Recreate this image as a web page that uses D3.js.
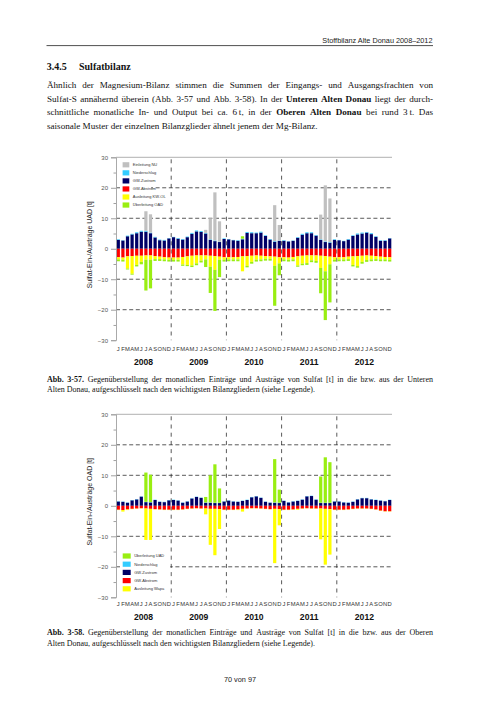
<!DOCTYPE html>
<html><head><meta charset="utf-8">
<script src="https://cdn.jsdelivr.net/npm/d3@7/dist/d3.min.js"></script>
<style>html,body{margin:0;padding:0;background:#fff;}svg{display:block;}</style>
</head><body>
<script>
// ---------- DATA ----------
const monthLabels = ["J","F","M","A","M","J","J","A","S","O","N","D"];
const years = ["2008","2009","2010","2011","2012"];
const yTicks = [-30,-20,-10,0,10,20,30];
const yMinorTicks = [-25,-15,-5,5,15,25];
const gridDashed = [-20,-10,10,20];

// Chart 1: Untere Alte Donau (UAD) — inputs positive, outputs negative [t]
const uadGwZustrom = [
 2.9,2.7,4.1,4.7,5.1,5.6,5.6,5.1,3.7,2.8,2.7,3.4,
 3.8,3.3,3.0,3.8,4.9,5.7,5.5,5.0,2.9,2.5,2.2,3.2,
 3.1,2.8,2.6,3.1,5.2,5.1,5.1,5.3,4.2,3.0,2.3,2.6,
 2.6,2.4,2.6,3.6,4.6,5.1,5.1,4.3,2.9,2.2,2.0,2.9,
 2.8,2.5,3.0,4.2,4.7,5.0,5.3,4.8,3.9,2.6,2.6,3.4];
const uadNiederschlag = [
 0.2,0.1,0.2,0.2,0.3,0.3,0.3,0.2,0.2,0.2,0.2,0.1,
 0.1,0.2,0.2,0.2,0.3,0.3,0.3,0.2,0.2,0.2,0.1,0.2,
 0.1,0.1,0.2,0.2,0.3,0.3,0.2,0.3,0.2,0.2,0.2,0.1,
 0.2,0.1,0.1,0.2,0.3,0.3,0.3,0.2,0.2,0.2,0.2,0.2,
 0.1,0.1,0.2,0.2,0.3,0.3,0.2,0.3,0.2,0.2,0.2,0.1];
const uadEinleitungNU = [
 0,0,0,0,0,0,6.4,6.0,0,0,0,0,
 0,0,0,0,0,0,0,1.0,6.9,15.8,6.7,0,
 0,0,0,0,0,0,0,0,0,0,11.8,5.1,
 0,0,0,0,0,0,0,0,8.1,18.4,14.3,0,
 0,0,0,0,0,0,0,0,0,0,0,0];
const uadGwAbstrom = [
 -2.8,-2.9,-2.5,-2.4,-2.3,-2.3,-2.2,-2.2,-2.4,-2.6,-2.8,-2.9,
 -2.9,-2.9,-2.7,-2.5,-2.3,-2.2,-2.2,-2.2,-2.3,-2.4,-2.6,-2.8,
 -2.8,-2.8,-2.7,-2.5,-2.4,-2.3,-2.2,-2.3,-2.4,-2.5,-2.6,-2.8,
 -2.8,-2.9,-2.7,-2.5,-2.3,-2.2,-2.2,-2.2,-2.3,-2.4,-2.6,-2.8,
 -2.8,-2.8,-2.6,-2.5,-2.4,-2.3,-2.2,-2.3,-2.4,-2.6,-2.7,-2.8];
const uadAusleitungKWOL = [
 -0.7,-0.7,-4.0,-5.8,-3.0,-2.0,-1.4,-1.4,-1.0,-0.8,-0.7,-0.7,
 -0.7,-0.7,-2.5,-2.8,-3.2,-2.6,-1.7,-1.3,-3.6,-4.5,-1.0,-0.8,
 -0.7,-0.7,-0.8,-4.9,-3.2,-2.0,-1.4,-1.2,-0.9,-0.8,-3.0,-2.0,
 -0.7,-0.7,-0.8,-3.0,-2.6,-2.5,-1.6,-1.8,-4.0,-5.0,-2.5,-0.8,
 -0.7,-0.7,-0.8,-2.8,-3.3,-2.0,-1.5,-1.2,-1.0,-0.9,-0.8,-0.8];
const uadUeberleitungOAD = [
 -0.6,-0.6,-0.3,-0.3,-0.5,-0.8,-10.1,-9.4,-0.6,-0.6,-0.6,-0.6,
 -0.6,-0.6,-0.4,-0.4,-0.5,-0.6,-0.6,-2.5,-8.6,-13.5,-5.7,-0.6,
 -0.6,-0.6,-0.6,0.8,-0.5,-0.6,-0.6,-0.6,-0.6,-0.6,-13.1,-3.9,
 -0.6,-0.6,-0.6,-0.4,-0.5,-0.6,-0.6,-0.6,-8.3,-16.0,-12.5,-0.6,
 -0.6,-0.6,-0.6,-0.5,-0.5,-0.6,-0.6,-0.6,-0.6,-0.6,-0.6,-0.6];

// Chart 2: Obere Alte Donau (OAD)
const oadGwZustrom = [
 1.4,1.3,1.0,1.8,2.1,3.0,1.2,1.1,1.9,1.3,1.2,1.8,
 1.9,1.7,1.0,1.4,2.4,2.9,2.6,1.0,1.0,0.9,0.9,1.4,
 1.7,1.4,1.3,1.6,1.9,2.8,3.1,2.6,1.3,1.0,1.0,0.9,
 1.6,1.1,1.4,1.6,2.0,3.1,3.2,2.0,0.9,0.9,0.9,1.4,
 1.4,1.1,1.0,1.3,2.1,2.5,2.5,2.1,1.9,1.7,1.5,1.9];
const oadNiederschlag = [
 0.1,0.1,0.1,0.1,0.1,0.1,0.1,0.1,0.1,0.1,0.1,0.1,
 0.1,0.1,0.1,0.1,0.1,0.1,0.1,0.1,0.1,0.1,0.1,0.1,
 0.1,0.1,0.1,0.1,0.1,0.1,0.1,0.1,0.1,0.1,0.1,0.1,
 0.1,0.1,0.1,0.1,0.1,0.1,0.1,0.1,0.1,0.1,0.1,0.1,
 0.1,0.1,0.1,0.1,0.1,0.1,0.1,0.1,0.1,0.1,0.1,0.1];
const oadUeberleitungUAD = [
 0,0,0,0,0,0,9.6,9.0,0,0,0,0,
 0,0,0,0,0,0,0,1.8,8.9,12.6,4.7,0,
 0,0,0,0,0,0,0,0,0,0,14.2,4.3,
 0,0,0,0,0,0,0,0,8.6,14.9,13.3,0,
 0,0,0,0,0,0,0,0,0,0,0,0];
const oadGwAbstrom = [
 -1.3,-1.4,-1.2,-1.0,-0.9,-0.8,-0.9,-1.0,-1.1,-1.2,-1.3,-1.3,
 -1.3,-1.3,-1.2,-1.0,-0.9,-0.8,-0.9,-0.9,-1.0,-1.0,-1.1,-1.3,
 -1.3,-1.3,-1.2,-1.0,-0.9,-0.8,-0.8,-0.9,-1.0,-1.1,-1.0,-1.1,
 -1.3,-1.3,-1.2,-1.0,-0.9,-0.8,-0.9,-0.9,-0.9,-1.0,-1.1,-1.3,
 -1.3,-1.3,-1.2,-1.0,-0.9,-0.9,-0.9,-1.0,-1.2,-1.6,-1.8,-1.8];
const oadAusleitung = [
 -0.1,-0.5,-0.2,-0.1,-0.1,-0.1,-10.3,-10.2,-0.1,-0.1,-0.1,-0.1,
 -0.1,-0.1,-0.1,-0.1,-0.1,-0.1,-0.1,-1.9,-11.8,-15.2,-6.5,-0.1,
 -0.1,-0.1,-0.2,-0.9,-0.1,-0.1,-0.1,-0.1,-0.1,-0.1,-17.8,-5.3,
 -0.1,-0.1,-0.1,-0.3,-0.1,-0.1,-0.1,-0.1,-10.1,-18.3,-14.9,-0.1,
 -0.1,-0.1,-0.1,-0.1,-0.1,-0.1,-0.1,-0.1,-0.1,-0.1,-0.1,-0.1];

// ---------- PAGE ----------
const W = 504, H = 713;
const SERIF = "'Liberation Serif','Times New Roman',serif";
const SANS = "'Liberation Sans',Arial,sans-serif";
const svg = d3.select("body").append("svg").attr("width", W).attr("height", H);
svg.append("rect").attr("width", W).attr("height", H).attr("fill", "#fff");

// header
svg.append("text").attr("x", 432.5).attr("y", 42.5).attr("text-anchor", "end")
  .attr("font-family", SANS).attr("font-size", 7.3).attr("fill", "#222")
  .text("Stoffbilanz Alte Donau 2008–2012");
svg.append("line").attr("x1", 46.5).attr("x2", 433).attr("y1", 45.6).attr("y2", 45.6)
  .attr("stroke", "#222").attr("stroke-width", 0.8);

// heading
svg.append("text").attr("x", 46.7).attr("y", 70).attr("font-family", SERIF)
  .attr("font-size", 10).attr("font-weight", "bold").attr("fill", "#111").text("3.4.5");
svg.append("text").attr("x", 79).attr("y", 70).attr("font-family", SERIF)
  .attr("font-size", 10).attr("font-weight", "bold").attr("fill", "#111").text("Sulfatbilanz");

function textLine(x0, x1, y, segments, size, justify) {
  const g = svg.append("g");
  const words = [];
  segments.forEach(s => s.t.split(" ").filter(w => w.length).forEach(w => words.push({w, b: s.b})));
  const nodes = words.map(o => g.append("text").attr("y", y).attr("font-family", SERIF)
    .attr("font-size", size).attr("fill", "#111").attr("font-weight", o.b ? "bold" : "normal").text(o.w));
  const widths = nodes.map(n => n.node().getComputedTextLength());
  const total = d3.sum(widths);
  const gap = justify && words.length > 1 ? (x1 - x0 - total) / (words.length - 1) : size * 0.25;
  let x = x0;
  nodes.forEach((n, i) => { n.attr("x", x); x += widths[i] + gap; });
}
const L = 47, R = 433;
textLine(L, R, 88.3, [{t: "Ähnlich der Magnesium-Bilanz stimmen die Summen der Eingangs- und Ausgangsfrachten von"}], 9.1, true);
textLine(L, R, 101.8, [{t: "Sulfat-S annähernd überein (Abb. 3-57 und Abb. 3-58). In der"}, {t: "Unteren Alten Donau", b: true}, {t: "liegt der durch-"}], 9.1, true);
textLine(L, R, 115.3, [{t: "schnittliche monatliche In- und Output bei ca. 6\u2009t, in der"}, {t: "Oberen Alten Donau", b: true}, {t: "bei rund 3\u2009t. Das"}], 9.1, true);
textLine(L, R, 128.8, [{t: "saisonale Muster der einzelnen Bilanzglieder ähnelt jenem der Mg-Bilanz."}], 9.1, false);

// captions
textLine(L, R, 381.5, [{t: "Abb. 3-57.", b: true}, {t: "Gegenüberstellung der monatlichen Einträge und Austräge von Sulfat [t] in die bzw. aus der Unteren"}], 8, true);
textLine(L, R, 392.3, [{t: "Alten Donau, aufgeschlüsselt nach den wichtigsten Bilanzgliedern (siehe Legende)."}], 8, false);
textLine(L, R, 635, [{t: "Abb. 3-58.", b: true}, {t: "Gegenüberstellung der monatlichen Einträge und Austräge von Sulfat [t] in die bzw. aus der Oberen"}], 8, true);
textLine(L, R, 645.6, [{t: "Alten Donau, aufgeschlüsselt nach den wichtigsten Bilanzgliedern (siehe Legende)."}], 8, false);

// page number
svg.append("text").attr("x", 240).attr("y", 681.5).attr("text-anchor", "middle")
  .attr("font-family", SANS).attr("font-size", 7.3).attr("fill", "#222").text("70 von 97");

// ---------- CHARTS ----------
const COLORS = {gray: "#c0c0c0", cyan: "#33ccff", navy: "#000066", red: "#ff0000", yellow: "#ffff00", green: "#99ee11"};
const monthKeys = d3.range(60);

function drawChart(cfg) {
  const g = svg.append("g");
  const x = d3.scaleBand().domain(monthKeys).range([cfg.left, cfg.right]).paddingInner(0.3).paddingOuter(0.15);
  const y = d3.scaleLinear().domain([-30, 30]).range([cfg.bottom, cfg.top]);
  const step = x.step();
  const boundary = i => x(i) - (step - x.bandwidth()) / 2;

  // top line at 30
  g.append("line").attr("x1", cfg.left).attr("x2", cfg.right).attr("y1", y(30)).attr("y2", y(30))
    .attr("stroke", "#a8a8a8").attr("stroke-width", 0.9);
  // dashed horizontal grid
  g.selectAll(".hg").data(gridDashed).join("line")
    .attr("x1", cfg.left).attr("x2", cfg.right).attr("y1", d => y(d)).attr("y2", d => y(d))
    .attr("stroke", "#222").attr("stroke-width", 0.75).attr("stroke-dasharray", "4,2.6");
  // dashed year dividers
  g.selectAll(".vg").data([12, 24, 36, 48]).join("line")
    .attr("x1", d => boundary(d)).attr("x2", d => boundary(d)).attr("y1", y(30) + 2).attr("y2", y(-30))
    .attr("stroke", "#222").attr("stroke-width", 0.75).attr("stroke-dasharray", "4,4.2");

  // stacked bars
  const table = monthKeys.map(i => {
    const o = {i};
    cfg.series.forEach(s => o[s.key] = s.values[i]);
    return o;
  });
  const stack = d3.stack().keys(cfg.series.map(s => s.key)).offset(d3.stackOffsetDiverging)(table);
  stack.forEach((layer, li) => {
    g.append("g").attr("fill", cfg.series[li].color).selectAll("rect").data(layer).join("rect")
      .attr("x", d => x(d.data.i)).attr("width", x.bandwidth())
      .attr("y", d => y(Math.max(d[0], d[1])))
      .attr("height", d => Math.abs(y(d[0]) - y(d[1])));
  });

  // y axis
  const ax = g.append("g").attr("transform", `translate(${cfg.left},0)`)
    .call(d3.axisLeft(y).tickValues(yTicks).tickSize(5).tickPadding(3).tickFormat(d3.format("d")));
  ax.select(".domain").attr("stroke", "#a0a0a0").attr("stroke-width", 0.9);
  ax.selectAll(".tick line").attr("stroke", "#a0a0a0");
  ax.selectAll(".tick text").attr("font-family", SANS).attr("font-size", 6).attr("fill", "#555");
  const axm = g.append("g").attr("transform", `translate(${cfg.left},0)`)
    .call(d3.axisLeft(y).tickValues(yMinorTicks).tickSize(2.5).tickFormat(""));
  axm.select(".domain").remove();
  axm.selectAll(".tick line").attr("stroke", "#a0a0a0");

  // y title
  g.append("text").attr("transform", `translate(${cfg.titleX},${y(0) - 4}) rotate(-90)`)
    .attr("text-anchor", "middle").attr("font-family", SANS).attr("font-size", 7).attr("fill", "#222")
    .text(cfg.yTitle);

  // month labels
  g.selectAll(".ml").data(monthKeys).join("text")
    .attr("x", d => x(d) + x.bandwidth() / 2).attr("y", cfg.monthY).attr("text-anchor", "middle")
    .attr("font-family", SANS).attr("font-size", 5.8).attr("fill", "#333")
    .text(d => monthLabels[d % 12]);
  // year labels
  g.selectAll(".yl").data(years).join("text")
    .attr("x", (d, k) => (boundary(k * 12) + (k < 4 ? boundary(k * 12 + 12) : cfg.right)) / 2)
    .attr("y", cfg.yearY).attr("text-anchor", "middle")
    .attr("font-family", SANS).attr("font-size", 8.6).attr("font-weight", "bold").attr("fill", "#111")
    .text(d => d);

  // legend
  const lg = g.append("g");
  lg.append("rect").attr("x", cfg.legend.x - 1.5).attr("y", cfg.legend.y - 5).attr("width", cfg.legend.w)
    .attr("height", cfg.legend.step * cfg.legend.items.length + 2).attr("fill", "#fff");
  cfg.legend.items.forEach((it, k) => {
    const cy = cfg.legend.y + k * cfg.legend.step;
    lg.append("rect").attr("x", cfg.legend.x).attr("y", cy - 2.6).attr("width", cfg.legend.sw).attr("height", 5.2)
      .attr("fill", it.color);
    lg.append("text").attr("x", cfg.legend.x + cfg.legend.sw + 3.5).attr("y", cy + 1.4)
      .attr("font-family", SANS).attr("font-size", 4).attr("fill", "#333").text(it.label);
  });
}

drawChart({
  left: 116, right: 392, top: 157.3, bottom: 340.2, titleX: 91.5,
  yTitle: "Sulfat-Ein-/Austräge UAD [t]", monthY: 350.8, yearY: 364.8,
  series: [
    {key: "gwzu", values: uadGwZustrom, color: COLORS.navy},
    {key: "nied", values: uadNiederschlag, color: COLORS.cyan},
    {key: "einl", values: uadEinleitungNU, color: COLORS.gray},
    {key: "gwab", values: uadGwAbstrom, color: COLORS.red},
    {key: "ausl", values: uadAusleitungKWOL, color: COLORS.yellow},
    {key: "uebl", values: uadUeberleitungOAD, color: COLORS.green}
  ],
  legend: {x: 122.6, y: 164.8, step: 8.05, sw: 6.7, w: 30, items: [
    {label: "Einleitung NU", color: COLORS.gray},
    {label: "Niederschlag", color: COLORS.cyan},
    {label: "GW-Zustrom", color: COLORS.navy},
    {label: "GW-Abstrom", color: COLORS.red},
    {label: "Ausleitung KW-OL", color: COLORS.yellow},
    {label: "Überleitung OAD", color: COLORS.green}
  ]}
});

drawChart({
  left: 116, right: 392, top: 414.3, bottom: 597.3, titleX: 91.5,
  yTitle: "Sulfat-Ein-/Austräge OAD [t]", monthY: 606.3, yearY: 620.2,
  series: [
    {key: "gwzu", values: oadGwZustrom, color: COLORS.navy},
    {key: "nied", values: oadNiederschlag, color: COLORS.cyan},
    {key: "uebl", values: oadUeberleitungUAD, color: COLORS.green},
    {key: "gwab", values: oadGwAbstrom, color: COLORS.red},
    {key: "ausl", values: oadAusleitung, color: COLORS.yellow}
  ],
  legend: {x: 122.7, y: 556, step: 8.2, sw: 8, w: 49, items: [
    {label: "Überleitung UAD", color: COLORS.green},
    {label: "Niederschlag", color: COLORS.cyan},
    {label: "GW-Zustrom", color: COLORS.navy},
    {label: "GW-Abstrom", color: COLORS.red},
    {label: "Ausleitung Wapa", color: COLORS.yellow}
  ]}
});
</script>
</body></html>
